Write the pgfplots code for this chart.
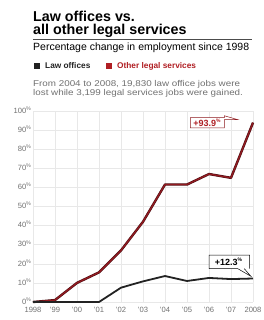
\documentclass[border=0pt]{standalone}
\usepackage{pgfplots}
\pgfplotsset{compat=1.18}
\usepackage{fontspec}
\setmainfont{Liberation Sans}
\definecolor{redline}{HTML}{931A20}
\definecolor{rededge}{HTML}{4A0E12}
\definecolor{legred}{HTML}{B01E23}
\definecolor{gridgray}{HTML}{E8E8E8}
\definecolor{txtgray}{HTML}{707070}
\definecolor{lawblack}{HTML}{222222}

\pgfplotstableread{
year law other
1998 0 0
1999 0 1
2000 0 10
2001 0 15.5
2002 7.5 27
2003 10.8 42
2004 13.6 61.5
2005 11 61.5
2006 12.6 67
2007 12 65
2008 12.3 93.9
}\datatable

\begin{document}
\begin{tikzpicture}
\useasboundingbox (0pt,0pt) rectangle (263pt,320pt);
% title
\node[anchor=base west, inner sep=0, font=\bfseries\fontsize{14.3}{15}\selectfont] at (33pt,298pt) {Law offices vs.};
\node[anchor=base west, inner sep=0, font=\bfseries\fontsize{14.3}{15}\selectfont] at (33pt,285pt) {all other legal services};
\draw[line width=0.6pt, black!70] (33pt,280.5pt) -- (252pt,280.5pt);
\node[anchor=base west, inner sep=0, font=\fontsize{10.5}{11}\selectfont] at (33pt,269pt) {Percentage change in employment since 1998};
% legend
\fill[lawblack] (34pt,250.5pt) rectangle (40pt,257pt);
\node[anchor=base west, inner sep=0, font=\bfseries\fontsize{8.3}{9}\selectfont, text=lawblack] at (45pt,251pt) {Law offices};
\fill[legred] (106pt,250.5pt) rectangle (112pt,257pt);
\node[anchor=base west, inner sep=0, font=\bfseries\fontsize{8.3}{9}\selectfont, text=legred] at (117pt,251pt) {Other legal services};
% note
\node[anchor=base west, inner sep=0, font=\fontsize{8.4}{9}\selectfont, text=txtgray] at (33pt,233.5pt) {\scalebox{1.17}[1]{From 2004 to 2008, 19,830 law office jobs were}};
\node[anchor=base west, inner sep=0, font=\fontsize{8.4}{9}\selectfont, text=txtgray] at (33pt,224.5pt) {\scalebox{1.17}[1]{lost while 3,199 legal services jobs were gained.}};

\begin{axis}[
  at={(33pt,18pt)}, anchor=south west,
  scale only axis, width=220pt, height=191pt,
  xmin=1998, xmax=2008, ymin=0, ymax=100,
  xtick={1998,1999,...,2008},
  xticklabels={1998,’99,’00,’01,’02,’03,’04,’05,’06,’07,2008},
  ytick={0,10,...,100},
  yticklabels={0\textsuperscript{\%},10\textsuperscript{\%},20\textsuperscript{\%},30\textsuperscript{\%},40\textsuperscript{\%},50\textsuperscript{\%},60\textsuperscript{\%},70\textsuperscript{\%},80\textsuperscript{\%},90\textsuperscript{\%},100\textsuperscript{\%}},
  grid=major,
  major grid style={gridgray, line width=0.5pt},
  axis line style={draw=none},
  tick style={draw=none},
  tick label style={font=\fontsize{7.6}{8}\selectfont, text=txtgray},
  yticklabel style={xshift=2pt, yshift=1pt},
  xticklabel style={yshift=-1.5pt},
  clip=false,
]
\addplot[rededge, line width=2.4pt, line join=round] table[x=year, y=other] {\datatable};
\addplot[redline, line width=1.3pt, line join=round] table[x=year, y=other] {\datatable};
\addplot[lawblack, line width=1.8pt, line join=round] table[x=year, y=law] {\datatable};
% callouts
\draw[legred!80!black, line width=0.5pt, fill=white]
  (axis cs:2005.15,96.5) -- (axis cs:2006.7,96.5) -- (axis cs:2006.7,97.5) -- (axis cs:2007.3,95.5) -- (axis cs:2006.7,95.5) -- (axis cs:2006.7,91.2) -- (axis cs:2005.15,91.2) -- cycle;
\node[font=\bfseries\fontsize{9}{10}\selectfont, text=legred, inner sep=0] at (axis cs:2005.92,93.8) {+93.9\textsuperscript{\tiny\%}};
\draw[black, line width=0.5pt, fill=white]
  (axis cs:2007.85,17.5) -- (axis cs:2007.85,24.5) -- (axis cs:2006.0,24.5) -- (axis cs:2006.0,17.5) -- (axis cs:2007.3,17.5) -- (axis cs:2007.9,13.5) -- (axis cs:2007.6,17.5);
\node[font=\bfseries\fontsize{9}{10}\selectfont, text=black, inner sep=0] at (axis cs:2006.9,21) {+12.3\textsuperscript{\tiny\%}};
\end{axis}
\end{tikzpicture}
\end{document}
